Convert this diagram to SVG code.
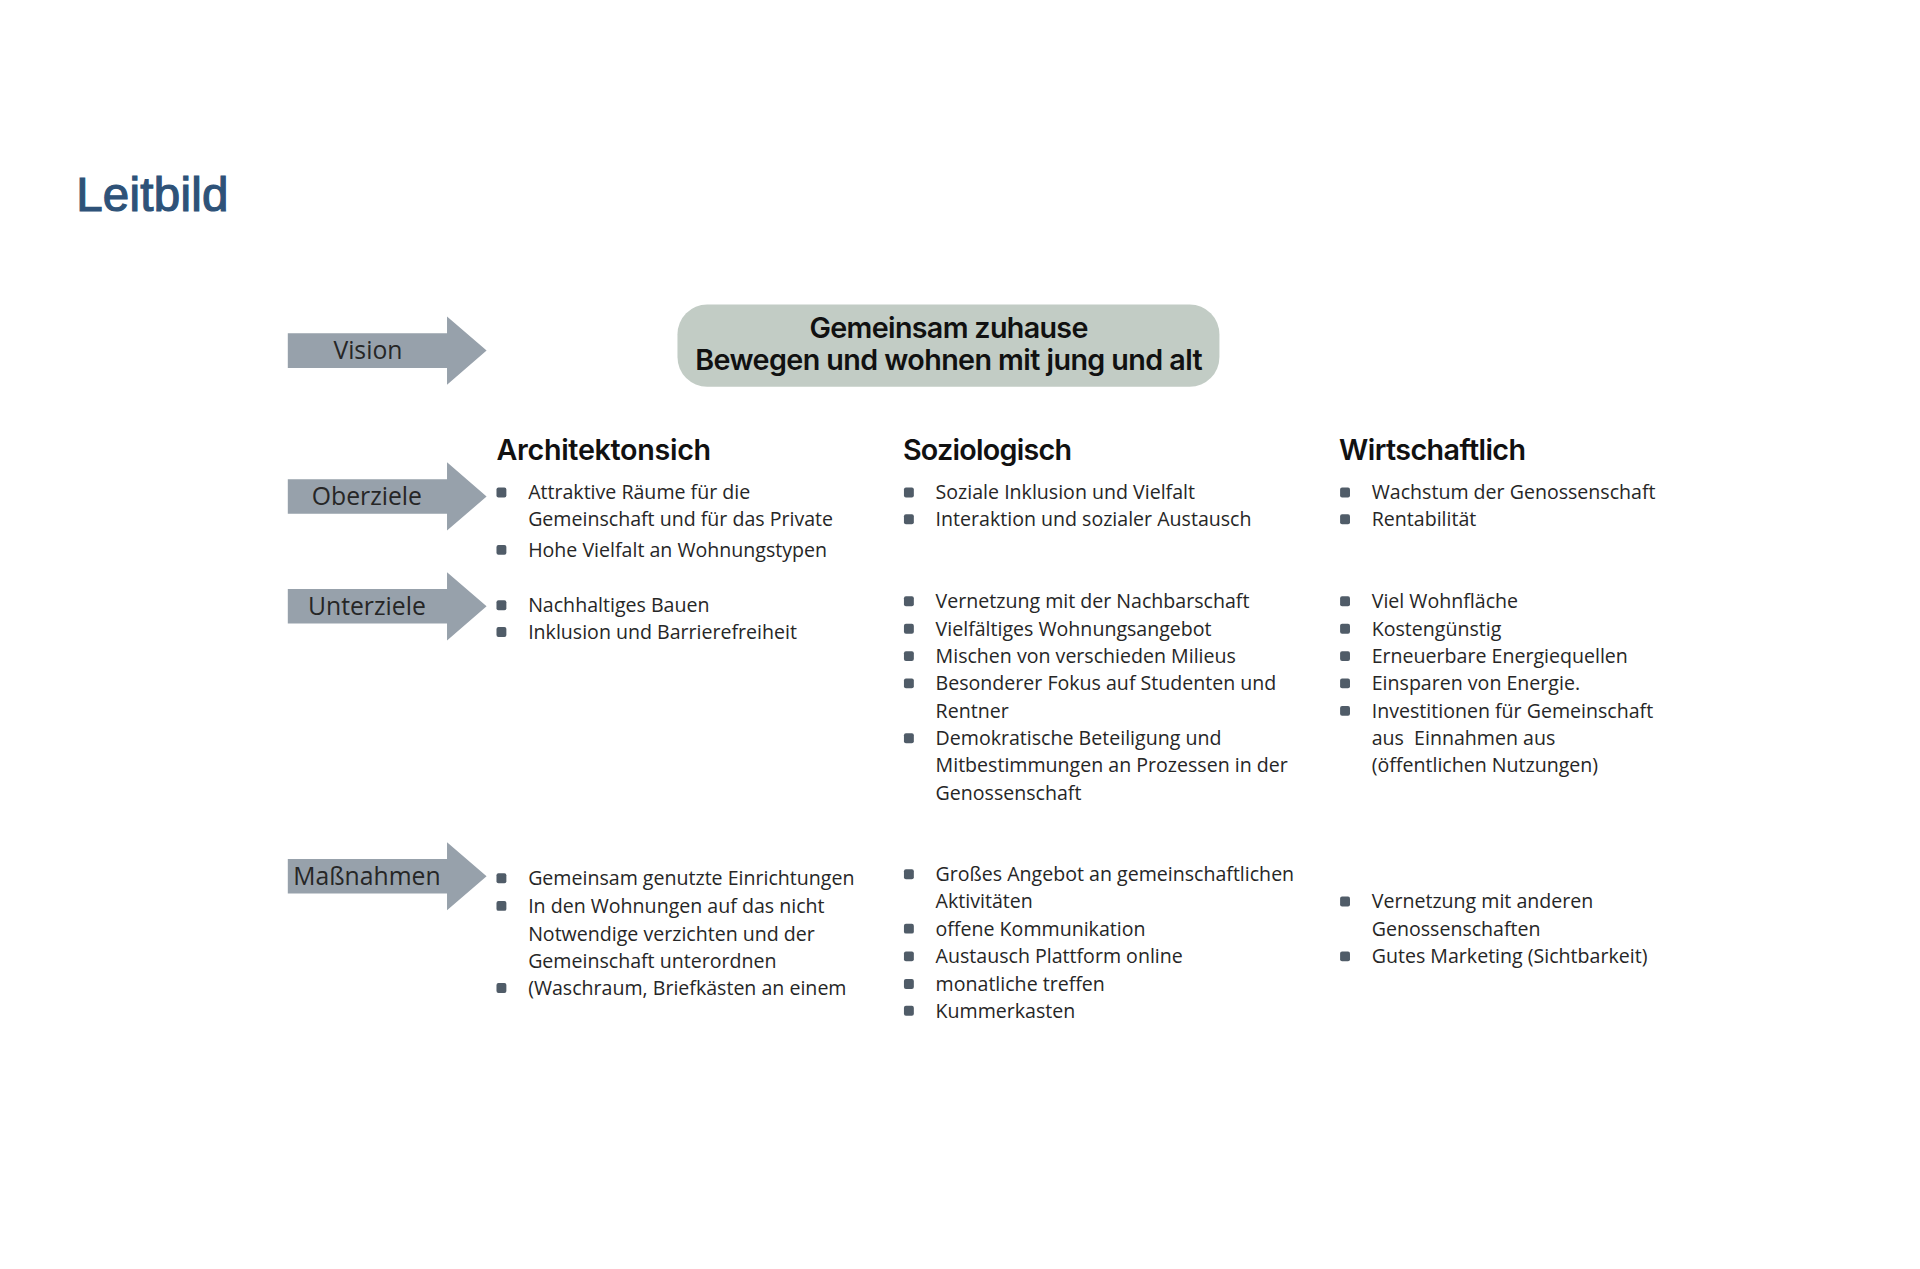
<svg xmlns="http://www.w3.org/2000/svg" xmlns:xlink="http://www.w3.org/1999/xlink" width="1920" height="1269" viewBox="0 0 1920 1269">
<style>
.title{font-family:"Liberation Sans",Arial,sans-serif;font-size:48px;font-weight:normal;fill:#2e5278;stroke:#2e5278;stroke-width:1.2}
.alabel{font-family:"Open Sans","Liberation Sans",sans-serif;font-size:25px;fill:#262626;text-anchor:middle}
.vis{font-family:"Inter","Liberation Sans",sans-serif;font-size:29px;font-weight:600;fill:#111;text-anchor:middle}
.head{font-family:"Inter","Liberation Sans",sans-serif;font-size:29px;font-weight:600;fill:#111}
.t{font-family:"Open Sans","Liberation Sans",sans-serif;font-size:19.8px;fill:#262626}
.arrow{fill:#97a1ab}
.b{fill:#505c68}
</style>
<defs>
<path id="arrowShape" class="arrow" d="M0,-17.5 H161 V-34.5 L201,0 L161,34.5 V17.5 H0 Z"/>
<rect id="bul" class="b" x="0" y="-5" width="10" height="10" rx="2"/>
</defs>
<rect width="1920" height="1269" fill="#ffffff"/>
<g transform="scale(0.989)">
<text class="title" x="77" y="213" textLength="154">Leitbild</text>

<g id="connectors">
<g id="arrow-vision"><use href="#arrowShape" x="291" y="354.5"/><text class="alabel" x="372" y="363">Vision</text></g>
<g id="arrow-oberziele"><use href="#arrowShape" x="291" y="502"/><text class="alabel" x="371" y="511">Oberziele</text></g>
<g id="arrow-unterziele"><use href="#arrowShape" x="291" y="613"/><text class="alabel" x="371" y="622">Unterziele</text></g>
<g id="arrow-massnahmen"><use href="#arrowShape" x="291" y="886"/><text class="alabel" x="371" y="895">Maßnahmen</text></g>
</g>

<g id="vision-box">
<rect x="685" y="308" width="548" height="83" rx="30" fill="#c2ccc5"/>
<text class="vis" x="959.5" y="342" textLength="282">Gemeinsam zuhause</text>
<text class="vis" x="959.5" y="374" textLength="513">Bewegen und wohnen mit jung und alt</text>
</g>

<g id="col-architektonisch">
<text class="head" x="502" y="465" textLength="217">Architektonsich</text>
<use href="#bul" x="502" y="498"/>
<text class="t" x="534" y="505">Attraktive Räume für die</text>
<text class="t" x="534" y="532">Gemeinschaft und für das Private</text>
<use href="#bul" x="502" y="556"/>
<text class="t" x="534" y="563">Hohe Vielfalt an Wohnungstypen</text>
<use href="#bul" x="502" y="612"/>
<text class="t" x="534" y="619">Nachhaltiges Bauen</text>
<use href="#bul" x="502" y="639"/>
<text class="t" x="534" y="646">Inklusion und Barrierefreiheit</text>
<use href="#bul" x="502" y="888"/>
<text class="t" x="534" y="895">Gemeinsam genutzte Einrichtungen</text>
<use href="#bul" x="502" y="916"/>
<text class="t" x="534" y="923">In den Wohnungen auf das nicht</text>
<text class="t" x="534" y="951">Notwendige verzichten und der</text>
<text class="t" x="534" y="978.5">Gemeinschaft unterordnen</text>
<use href="#bul" x="502" y="999"/>
<text class="t" x="534" y="1006">(Waschraum, Briefkästen an einem</text>
</g>

<g id="col-soziologisch">
<text class="head" x="913" y="465" textLength="171">Soziologisch</text>
<use href="#bul" x="914" y="498"/>
<text class="t" x="946" y="505">Soziale Inklusion und Vielfalt</text>
<use href="#bul" x="914" y="525"/>
<text class="t" x="946" y="532">Interaktion und sozialer Austausch</text>
<use href="#bul" x="914" y="608"/>
<text class="t" x="946" y="615">Vernetzung mit der Nachbarschaft</text>
<use href="#bul" x="914" y="635.7"/>
<text class="t" x="946" y="642.7">Vielfältiges Wohnungsangebot</text>
<use href="#bul" x="914" y="663.4"/>
<text class="t" x="946" y="670.4">Mischen von verschieden Milieus</text>
<use href="#bul" x="914" y="691"/>
<text class="t" x="946" y="698">Besonderer Fokus auf Studenten und</text>
<text class="t" x="946" y="725.8">Rentner</text>
<use href="#bul" x="914" y="746.5"/>
<text class="t" x="946" y="753.5">Demokratische Beteiligung und</text>
<text class="t" x="946" y="781">Mitbestimmungen an Prozessen in der</text>
<text class="t" x="946" y="809">Genossenschaft</text>
<use href="#bul" x="914" y="884"/>
<text class="t" x="946" y="891">Großes Angebot an gemeinschaftlichen</text>
<text class="t" x="946" y="918.5">Aktivitäten</text>
<use href="#bul" x="914" y="939"/>
<text class="t" x="946" y="946">offene Kommunikation</text>
<use href="#bul" x="914" y="967"/>
<text class="t" x="946" y="974">Austausch Plattform online</text>
<use href="#bul" x="914" y="995"/>
<text class="t" x="946" y="1002">monatliche treffen</text>
<use href="#bul" x="914" y="1022"/>
<text class="t" x="946" y="1029">Kummerkasten</text>
</g>

<g id="col-wirtschaftlich">
<text class="head" x="1354" y="465" textLength="189">Wirtschaftlich</text>
<use href="#bul" x="1355" y="498"/>
<text class="t" x="1387" y="505">Wachstum der Genossenschaft</text>
<use href="#bul" x="1355" y="525"/>
<text class="t" x="1387" y="532">Rentabilität</text>
<use href="#bul" x="1355" y="608"/>
<text class="t" x="1387" y="615">Viel Wohnfläche</text>
<use href="#bul" x="1355" y="635.7"/>
<text class="t" x="1387" y="642.7">Kostengünstig</text>
<use href="#bul" x="1355" y="663.4"/>
<text class="t" x="1387" y="670.4">Erneuerbare Energiequellen</text>
<use href="#bul" x="1355" y="691"/>
<text class="t" x="1387" y="698">Einsparen von Energie.</text>
<use href="#bul" x="1355" y="718.8"/>
<text class="t" x="1387" y="725.8">Investitionen für Gemeinschaft</text>
<text class="t" x="1387" y="753.5" xml:space="preserve">aus  Einnahmen aus</text>
<text class="t" x="1387" y="781">(öffentlichen Nutzungen)</text>
<use href="#bul" x="1355" y="911.5"/>
<text class="t" x="1387" y="918.5">Vernetzung mit anderen</text>
<text class="t" x="1387" y="946">Genossenschaften</text>
<use href="#bul" x="1355" y="967"/>
<text class="t" x="1387" y="974">Gutes Marketing (Sichtbarkeit)</text>
</g>
</g>
</svg>
